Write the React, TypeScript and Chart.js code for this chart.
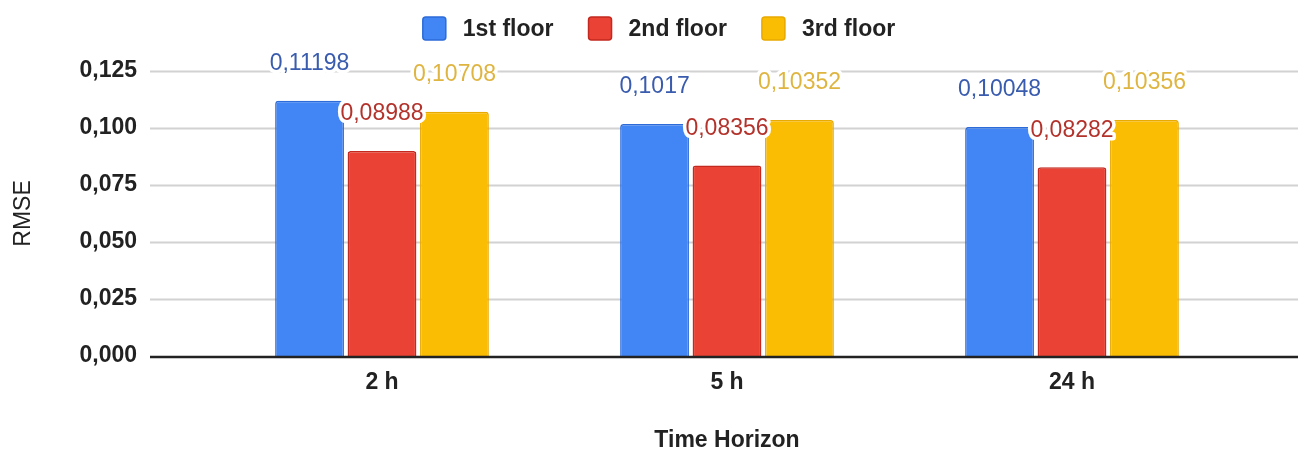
import { useEffect, useRef } from "react"
import { Chart, registerables, type ChartConfiguration, type Plugin } from "chart.js"

Chart.register(...registerables)

const horizons = ["2 h", "5 h", "24 h"]
const firstFloor = [0.11198, 0.1017, 0.10048]
const secondFloor = [0.08988, 0.08356, 0.08282]
const thirdFloor = [0.10708, 0.10352, 0.10356]
const seriesNames = ["1st floor", "2nd floor", "3rd floor"]

const FONT = "'Liberation Sans', Arial, sans-serif"
const fillColors = ["#4285f4", "#ea4335", "#fbbc04"]
const edgeColors = ["#2d6bd8", "#c4291f", "#e8a900"]
const labelColors = ["#3a5cae", "#b3322b", "#dfb541"]

const fmt = (v: number) => String(v).replace(".", ",")

// horizontal grid lines run wider than the category area, like the original
const gridPlugin: Plugin<"bar"> = {
  id: "wideGrid",
  beforeDatasetsDraw(chart) {
    const { ctx } = chart
    const y = chart.scales.y
    ctx.save()
    ctx.strokeStyle = "#d2d2d2"
    ctx.lineWidth = 2
    y.ticks.forEach((t) => {
      if (t.value === 0) return
      const py = Math.round(y.getPixelForValue(t.value)) + 0.5
      ctx.beginPath()
      ctx.moveTo(150, py)
      ctx.lineTo(chart.width, py)
      ctx.stroke()
    })
    ctx.restore()
  },
  afterDatasetsDraw(chart) {
    const { ctx } = chart
    const y0 = chart.scales.y.getPixelForValue(0)
    ctx.save()
    ctx.strokeStyle = "#222"
    ctx.lineWidth = 2.5
    ctx.beginPath()
    ctx.moveTo(150, y0 + 1)
    ctx.lineTo(chart.width, y0 + 1)
    ctx.stroke()

    // value labels above each bar
    ctx.font = `23px ${FONT}`
    ctx.textAlign = "center"
    ctx.textBaseline = "middle"
    ctx.lineJoin = "round"
    chart.data.datasets.forEach((ds, i) => {
      const meta = chart.getDatasetMeta(i)
      meta.data.forEach((bar, j) => {
        const text = fmt(ds.data[j] as number)
        const ty = bar.y - 37
        ctx.lineWidth = 7
        ctx.strokeStyle = "#fff"
        ctx.strokeText(text, bar.x, ty)
        ctx.fillStyle = labelColors[i]
        ctx.fillText(text, bar.x, ty)
      })
    })
    ctx.restore()
  },
  afterDraw(chart) {
    // legend row at the top
    const { ctx } = chart
    ctx.save()
    ctx.font = `bold 23px ${FONT}`
    ctx.textBaseline = "middle"
    const box = 23
    const gap = 17
    const itemGap = 35
    const widths = chart.data.datasets.map((ds) => ctx.measureText(ds.label ?? "").width)
    const total = widths.reduce((a, w) => a + box + gap + w, 0) + itemGap * (widths.length - 1)
    let x = chart.width / 2 + 10 - total / 2
    const cy = 28.5
    chart.data.datasets.forEach((ds, i) => {
      ctx.beginPath()
      ctx.roundRect(x, cy - box / 2, box, box, 3)
      ctx.fillStyle = fillColors[i]
      ctx.fill()
      ctx.lineWidth = 1.5
      ctx.strokeStyle = edgeColors[i]
      ctx.stroke()
      ctx.fillStyle = "#222"
      ctx.fillText(ds.label ?? "", x + box + gap, cy + 1)
      x += box + gap + widths[i] + itemGap
    })
    ctx.restore()
  },
}

export default function App() {
  const chartRef = useRef<HTMLCanvasElement>(null)
  const chartInstance = useRef<Chart | null>(null)

  useEffect(() => {
    if (!chartRef.current) return
    const ctx = chartRef.current.getContext("2d")
    if (!ctx) return

    if (chartInstance.current) {
      chartInstance.current.destroy()
    }

    const values = [firstFloor, secondFloor, thirdFloor]

    const config: ChartConfiguration<"bar"> = {
      type: "bar",
      data: {
        labels: horizons,
        datasets: values.map((data, i) => ({
          label: seriesNames[i],
          data,
          backgroundColor: fillColors[i],
          borderColor: edgeColors[i],
          borderWidth: 1.5,
          borderRadius: { topLeft: 3, topRight: 3, bottomLeft: 0, bottomRight: 0 },
          borderSkipped: "bottom",
          categoryPercentage: 0.63,
          barPercentage: 0.95,
        })),
      },
      options: {
        responsive: true,
        maintainAspectRatio: false,
        animation: false,
        layout: {
          padding: { top: 71, right: 53.5, bottom: 0, left: 0 },
        },
        plugins: {
          legend: { display: false },
          tooltip: { enabled: false },
        },
        scales: {
          x: {
            grid: { display: false, drawTicks: false },
            border: { display: false },
            ticks: {
              color: "#222",
              padding: 13,
              font: { family: FONT, size: 23, weight: "bold" },
            },
            title: {
              display: true,
              text: "Time Horizon",
              color: "#222",
              padding: { top: 0, bottom: 0 },
              font: { family: FONT, size: 23, weight: "bold", lineHeight: 1 },
            },
            afterFit: (scale) => {
              scale.height = 96
            },
          },
          y: {
            min: 0,
            max: 0.125,
            grid: { display: false, drawTicks: false },
            border: { display: false },
            ticks: {
              stepSize: 0.025,
              color: "#222",
              padding: 72.5,
              font: { family: FONT, size: 23, weight: "bold" },
              callback: (v) => Number(v).toFixed(3).replace(".", ","),
            },
            title: {
              display: true,
              text: "RMSE",
              color: "#222",
              padding: { top: 10, bottom: 0 },
              font: { family: FONT, size: 23 },
            },
            afterFit: (scale) => {
              scale.width = 209.5
              // the big tick padding would otherwise push the plot down
              scale.paddingTop = 0
              scale.paddingBottom = 0
            },
          },
        },
      },
      plugins: [gridPlugin],
    }

    chartInstance.current = new Chart(ctx, config)

    return () => {
      if (chartInstance.current) {
        chartInstance.current.destroy()
      }
    }
  }, [])

  return (
    <div style={{ position: "fixed", left: 0, top: 0, width: 1298, height: 452, background: "#fff" }}>
      <canvas ref={chartRef} />
    </div>
  )
}
